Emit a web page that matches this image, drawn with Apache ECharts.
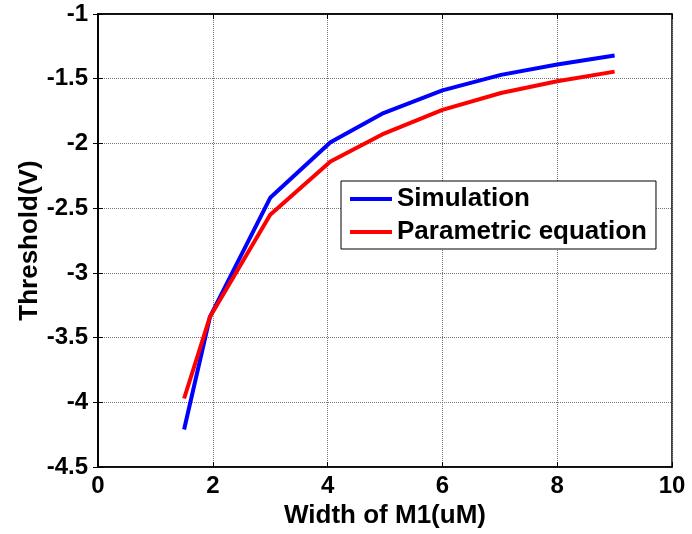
<!DOCTYPE html>
<html>
<head>
<meta charset="utf-8">
<script src="https://cdn.jsdelivr.net/npm/echarts@6/dist/echarts.min.js"></script>
<style>html,body{margin:0;padding:0;background:#fff}#c{width:692px;height:534px}</style>
</head>
<body>
<div id="c"></div>
<script>
var widths = [1.5, 1.95, 3, 4.05, 4.95, 6, 7.02, 8, 9];
var simulation = [-4.21, -3.34, -2.42, -1.99, -1.77, -1.59, -1.47, -1.39, -1.32];
var parametric = [-3.97, -3.34, -2.55, -2.14, -1.93, -1.74, -1.61, -1.52, -1.445];
var xTicks = [0, 2, 4, 6, 8, 10];
var yTicks = [-4.5, -4, -3.5, -3, -2.5, -2, -1.5, -1];

function pairs(xs, ys) { return xs.map(function (x, i) { return [x, ys[i]]; }); }

var font = 'Liberation Sans, Arial, sans-serif';
var chart = echarts.init(document.getElementById('c'));
chart.setOption({
  animation: false,
  backgroundColor: '#fff',
  grid: { left: 98, right: 20, top: 14, bottom: 64, show: true, borderColor: '#000', borderWidth: 1.5, backgroundColor: 'transparent' },
  legend: {
    orient: 'vertical', left: 341, top: 181,
    backgroundColor: '#fff', borderColor: '#000', borderWidth: 1,
    padding: [5, 9, 4, 9], itemGap: 7, itemWidth: 42, itemHeight: 4, icon: 'rect',
    textStyle: { fontFamily: font, fontWeight: 'bold', fontSize: 26, color: '#000' },
    data: ['Simulation', 'Parametric equation']
  },
  xAxis: [{
    type: 'value', min: xTicks[0], max: xTicks[xTicks.length - 1], interval: 2,
    name: 'Width of M1(uM)', nameLocation: 'middle', nameGap: 33,
    nameTextStyle: { fontFamily: font, fontWeight: 'bold', fontSize: 26, color: '#000' },
    axisLine: { show: true, lineStyle: { color: '#000', width: 1.5 } },
    axisTick: { show: true, inside: true, length: 5, lineStyle: { color: '#000' } },
    axisLabel: { fontFamily: font, fontWeight: 'bold', fontSize: 24, color: '#000', margin: 7 },
    splitLine: { show: true, lineStyle: { color: '#777', type: 'dotted', width: 1 } }
  }, {
    type: 'value', position: 'top', min: xTicks[0], max: xTicks[xTicks.length - 1], interval: 2,
    axisLine: { show: true, lineStyle: { color: '#000', width: 1.5 } },
    axisTick: { show: true, inside: true, length: 5, lineStyle: { color: '#000' } },
    axisLabel: { show: false }, splitLine: { show: false }
  }],
  yAxis: [{
    type: 'value', min: yTicks[0], max: yTicks[yTicks.length - 1], interval: 0.5,
    name: 'Threshold(V)', nameLocation: 'middle', nameGap: 55, nameRotate: 90, nameMoveOverlap: false,
    nameTextStyle: { fontFamily: font, fontWeight: 'bold', fontSize: 26, color: '#000' },
    axisLine: { show: true, lineStyle: { color: '#000', width: 1.5 } },
    axisTick: { show: true, inside: true, length: 5, lineStyle: { color: '#000' } },
    axisLabel: { fontFamily: font, fontWeight: 'bold', fontSize: 24, color: '#000', margin: 10 },
    splitLine: { show: true, lineStyle: { color: '#777', type: 'dotted', width: 1 } }
  }, {
    type: 'value', position: 'right', min: yTicks[0], max: yTicks[yTicks.length - 1], interval: 0.5,
    axisLine: { show: true, lineStyle: { color: '#000', width: 1.5 } },
    axisTick: { show: true, inside: true, length: 5, lineStyle: { color: '#000' } },
    axisLabel: { show: false }, splitLine: { show: false }
  }],
  series: [{
    name: 'Simulation', type: 'line', data: pairs(widths, simulation),
    symbol: 'none', color: '#0000ff', lineStyle: { width: 4, color: '#0000ff' }, z: 3
  }, {
    name: 'Parametric equation', type: 'line', data: pairs(widths, parametric),
    symbol: 'none', color: '#ff0000', lineStyle: { width: 4, color: '#ff0000' }, z: 4
  }]
});
</script>
</body>
</html>
